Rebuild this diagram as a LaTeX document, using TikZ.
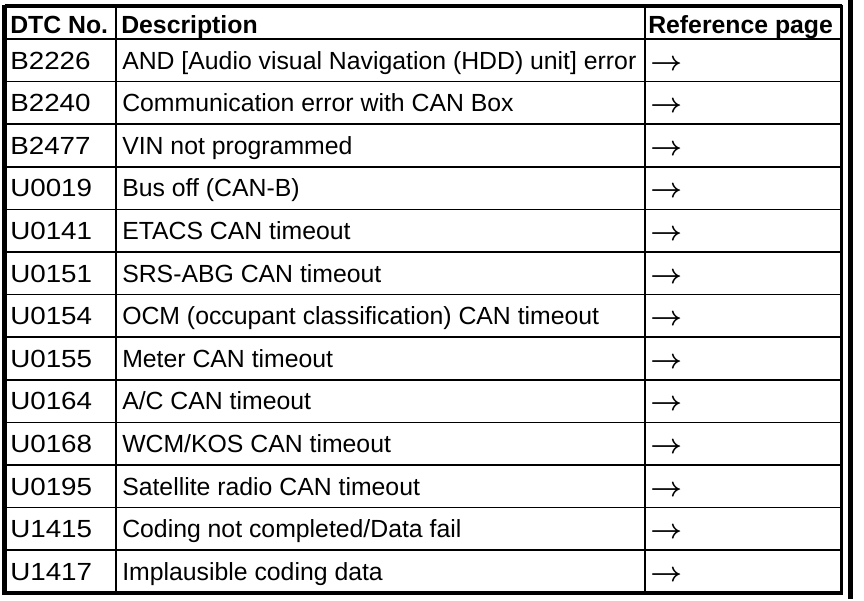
\documentclass[tikz,border=0pt]{standalone}
\usepackage{amsmath}
\usepackage{fontspec}
\setmainfont{Liberation Sans}
\usepackage{tikz}
\usetikzlibrary{calc}

\begin{document}
\begin{tikzpicture}[x=0.75pt,y=-0.75pt]

\tikzset{cell/.style={anchor=base west, inner sep=0pt, font=\fontsize{18.6}{20}\selectfont},
headcell/.style={cell, font=\fontsize{18.6}{20}\selectfont\bfseries},
refcell/.style={cell, font=\fontsize{21.5}{22}\selectfont},
%grid lines of the table
rowline/.style={line width=1.2pt},
colline/.style={line width=1.6pt},
frame/.style={line width=3.4pt}}

\useasboundingbox (0,0) rectangle (864,600);

%header
\node[headcell] (hcode) at (10,33) {DTC No.};
\node[headcell] (hdesc) at (121,33) {Description};
\node[headcell] (href) at (648,33) {Reference page};

\foreach \code/\desc [count=\i] in {B2226/{AND [Audio visual Navigation (HDD) unit] error},
  B2240/{Communication error with CAN Box}, B2477/{VIN not programmed},
  U0019/{Bus off (CAN-B)}, U0141/{ETACS CAN timeout}, U0151/{SRS-ABG CAN timeout},
  U0154/{OCM (occupant classification) CAN timeout}, U0155/{Meter CAN timeout},
  U0164/{A/C CAN timeout}, U0168/{WCM/KOS CAN timeout}, U0195/{Satellite radio CAN timeout},
  U1415/{Coding not completed/Data fail}, U1417/{Implausible coding data}}
{
  \pgfmathsetmacro{\yb}{39+42.6*(\i-1)+30}
  \node[cell,xscale=1.12] (code\i) at (10,\yb) {\code};
  \node[cell] (desc\i) at (122,\yb) {\desc};
  \node[refcell] (ref\i) at (650,\yb+1) {$\boldsymbol{\rightarrow}$};
}

%rows
\foreach \k in {0,...,12}
  \draw[rowline] (4,39+42.6*\k) -- (842,39+42.6*\k);

%columns
\draw[colline] (116,6) -- (116,593);
\draw[colline] (645,6) -- (645,593);

%outer frame
\draw[frame] (4.5,6) -- (842,6);
\draw[frame] (4.5,4.5) -- (4.5,595);
\draw[frame] (3,593) -- (842,593);
\draw[line width=2.6pt] (841.5,4.5) -- (841.5,595);
\draw[line width=4pt] (850.5,0) -- (850.5,599);

\end{tikzpicture}
\end{document}
